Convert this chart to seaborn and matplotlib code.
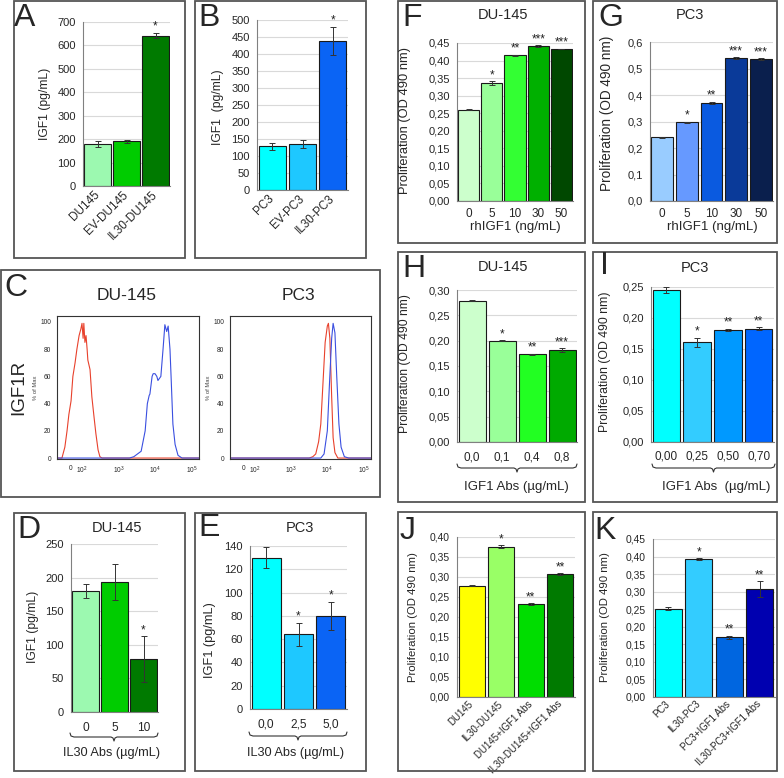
import numpy as np
import matplotlib
matplotlib.use("Agg")
import matplotlib.pyplot as plt
import seaborn as sns
from matplotlib.patches import Rectangle
from matplotlib.lines import Line2D
from matplotlib.ticker import FuncFormatter

sns.set_style("white")
plt.rcParams['font.family'] = ['Liberation Sans', 'DejaVu Sans']
plt.rcParams['mathtext.fontset'] = 'custom'
plt.rcParams['mathtext.rm'] = 'Liberation Sans'

# ---------------- data ----------------
a_cats = ["DU145", "EV-DU145", "IL30-DU145"]
a_vals = [180, 190, 642]
a_errs = [12, 5, 12]
a_stars = ["", "", "*"]

b_cats = ["PC3", "EV-PC3", "IL30-PC3"]
b_vals = [128, 136, 438]
b_errs = [10, 12, 42]
b_stars = ["", "", "*"]

d_cats = ["0", "5", "10"]
d_vals = [180, 193, 79]
d_errs = [10, 27, 34]
d_stars = ["", "", "*"]

e_cats = ["0,0", "2,5", "5,0"]
e_vals = [130, 64, 80]
e_errs = [9, 10, 12]
e_stars = ["", "*", "*"]

f_cats = ["0", "5", "10", "30", "50"]
f_vals = [0.260, 0.335, 0.415, 0.441, 0.433]
f_errs = [0.002, 0.006, 0.002, 0.002, 0.001]
f_stars = ["", "*", "**", "***", "***"]

g_cats = ["0", "5", "10", "30", "50"]
g_vals = [0.240, 0.297, 0.370, 0.540, 0.535]
g_errs = [0.003, 0.003, 0.005, 0.003, 0.003]
g_stars = ["", "*", "**", "***", "***"]

h_cats = ["0,0", "0,1", "0,4", "0,8"]
h_vals = [0.279, 0.200, 0.173, 0.181]
h_errs = [0.001, 0.001, 0.001, 0.004]
h_stars = ["", "*", "**", "***"]

i_cats = ["0,00", "0,25", "0,50", "0,70"]
i_vals = [0.245, 0.161, 0.181, 0.183]
i_errs = [0.005, 0.007, 0.002, 0.002]
i_stars = ["", "*", "**", "**"]

j_cats = ["DU145", "IL30-DU145", "DU145+IGF1 Abs", "IL30-DU145+IGF1 Abs"]
j_vals = [0.278, 0.376, 0.232, 0.308]
j_errs = [0.001, 0.003, 0.002, 0.002]
j_stars = ["", "*", "**", "**"]

k_cats = ["PC3", "IL30-PC3", "PC3+IGF1 Abs", "IL30-PC3+IGF1 Abs"]
k_vals = [0.252, 0.393, 0.170, 0.308]
k_errs = [0.003, 0.003, 0.004, 0.022]
k_stars = ["", "*", "**", "**"]

# flow cytometry histograms (x in decades, y in % of max)
du_red_x = [1.32, 1.36, 1.45, 1.53, 1.59, 1.64, 1.70, 1.75, 1.81, 1.86, 1.92, 1.97,
            2.00, 2.03, 2.05, 2.08, 2.11, 2.14, 2.16, 2.22, 2.27, 2.33, 2.38, 2.44,
            2.49, 2.55, 5.20]
du_red_y = [0, 0, 0, 8, 20, 32, 42, 60, 70, 80, 90, 95, 99, 88, 99, 85, 90, 80,
            72, 65, 45, 30, 18, 6, 1, 0, 0]
du_blue_x = [1.32, 3.30, 3.42, 3.62, 3.73, 3.79, 3.84, 3.86, 3.92, 3.95, 4.00, 4.05,
             4.08, 4.16, 4.22, 4.27, 4.32, 4.36, 4.41, 4.44, 4.49, 4.55, 4.63,
             4.74, 5.20]
du_blue_y = [0, 0, 1, 5, 20, 40, 46, 47, 60, 62, 62, 60, 57, 60, 80, 98, 93, 97,
             80, 60, 25, 10, 2, 0, 0]
pc_red_x = [1.32, 3.50, 3.60, 3.68, 3.76, 3.82, 3.88, 3.94, 4.00, 4.03, 4.07, 4.12,
            4.16, 4.21, 4.29, 5.20]
pc_red_y = [0, 0, 1, 3, 12, 25, 55, 85, 97, 99, 88, 45, 15, 4, 0, 0]
pc_blue_x = [1.32, 3.82, 3.91, 4.00, 4.06, 4.12, 4.16, 4.21, 4.26, 4.32, 4.38, 4.47,
             4.59, 5.20]
pc_blue_y = [0, 0, 3, 20, 55, 88, 99, 92, 60, 25, 8, 1, 0, 0]
flow_tick_pos = [1.7, 2, 3, 4, 5]
flow_tick_lab = ["0", "$10^2$", "$10^3$", "$10^4$", "$10^5$"]

green3 = ["#9cf9b0", "#00cc00", "#007a00"]
blue3 = ["#00ffff", "#1ec8ff", "#0a64f5"]
green5 = ["#ccffcc", "#99ff99", "#33ff33", "#00b000", "#004800"]
blue5 = ["#99ccff", "#6699ff", "#0a5ae0", "#0a3a99", "#0a1f4d"]
green4 = ["#ccffcc", "#99ff99", "#22ff22", "#00aa00"]
blue4 = ["#00ffff", "#33ccff", "#0099ff", "#0066ff"]
j_cols = ["#ffff00", "#99ff66", "#00dd00", "#007a00"]
k_cols = ["#00ffff", "#33ccff", "#0066e0", "#0000b0"]

W, H = 784, 778
fig = plt.figure(figsize=(W / 100, H / 100), dpi=100)


def px_ax(l, t, r, b):
    return fig.add_axes([l / W, 1 - b / H, (r - l) / W, (b - t) / H])


def ftext(x, y, s, **kw):
    fig.text(x / W, 1 - y / H, s, **kw)


def box(l, t, r, b):
    fig.add_artist(Rectangle((l / W, 1 - b / H), (r - l) / W, (b - t) / H,
                             transform=fig.transFigure, fill=False,
                             ec="#555555", lw=1.3))


def brace(l, r, y):
    m = (l + r) / 2
    xs = np.array([l, l + 1, l + 4, m - 3, m - 1, m, m + 1, m + 3, r - 4, r - 1, r])
    ys = np.array([y - 4, y - 1, y, y, y + 1, y + 4, y + 1, y, y, y - 1, y - 4])
    fig.add_artist(Line2D(xs / W, 1 - ys / H, transform=fig.transFigure,
                          color="#333333", lw=0.8))


def bar_panel(pos, cats, vals, errs, colors, stars, ymax, ystep, dec,
              tick_fs=8, xt_fs=8.5, rot=False, xpad=4, width=0.9):
    ax = px_ax(*pos)
    sns.barplot(x=cats, y=vals, hue=cats, order=cats, hue_order=cats,
                palette=colors, legend=False, width=width, saturation=1,
                edgecolor="#1a1a1a", linewidth=0.8, ax=ax)
    ax.errorbar(np.arange(len(cats)), vals, yerr=errs, fmt="none",
                ecolor="#333333", elinewidth=0.7, capsize=2, capthick=0.7,
                zorder=3)
    for i, s in enumerate(stars):
        if s:
            ax.annotate(s, (i, vals[i] + errs[i]), xytext=(0, 0),
                        textcoords="offset points", ha="center", va="bottom",
                        fontsize=8.5, color="#222222")
    ax.set_ylim(0, ymax)
    ax.set_yticks(np.arange(0, ymax + ystep / 2, ystep))
    ax.yaxis.set_major_formatter(
        FuncFormatter(lambda v, p: f"{v:.{dec}f}".replace(".", ",")))
    ax.set_xlim(-0.5, len(cats) - 0.5)
    ax.set_xticks(np.arange(len(cats)))
    ax.set_xticks(np.arange(-0.5, len(cats)), minor=True)
    ax.tick_params(axis="x", which="major", length=0, pad=xpad, labelsize=xt_fs)
    ax.tick_params(axis="x", which="minor", length=4, width=0.8, color="#808080")
    ax.tick_params(axis="y", length=3, width=0.8, color="#808080",
                   labelsize=tick_fs, pad=2)
    if rot:
        plt.setp(ax.get_xticklabels(), rotation=45, ha="right", va="center",
                 rotation_mode="anchor")
    ax.grid(axis="y", color="#d9d9d9", lw=0.8)
    ax.set_axisbelow(True)
    for s in ["top", "right"]:
        ax.spines[s].set_visible(False)
    for s in ["left", "bottom"]:
        ax.spines[s].set_color("#808080")
        ax.spines[s].set_linewidth(0.8)
    ax.set_xlabel("")
    ax.set_ylabel("")
    return ax


def flow_panel(pos, rx, ry, bx, by):
    ax = px_ax(*pos)
    sns.lineplot(x=rx, y=ry, color="#e8412c", lw=0.8, ax=ax,
                 estimator=None, sort=False)
    sns.lineplot(x=bx, y=by, color="#3a4fe0", lw=0.8, ax=ax,
                 estimator=None, sort=False)
    ax.set_xlim(1.315, 5.205)
    ax.set_ylim(-0.7, 104.4)
    ax.set_yticks([0, 20, 40, 60, 80, 100])
    ax.set_xticks(flow_tick_pos)
    ax.set_xticklabels(flow_tick_lab)
    minor = [np.log10(k * 10 ** d) for d in (2, 3, 4) for k in range(2, 10)]
    minor += [1.4, 1.5, 1.6, 1.8, 1.9]
    ax.set_xticks(minor, minor=True)
    ax.tick_params(labelsize=4.8, length=2.5, width=0.6, pad=1.5)
    ax.tick_params(which="minor", length=1.5, width=0.5)
    ax.set_ylabel("% of Max", fontsize=4.2, labelpad=1.5, color="#444444")
    ax.set_xlabel("")
    for s in ax.spines.values():
        s.set_color("#333333")
        s.set_linewidth(0.8)
    return ax


# ---------------- panel frames ----------------
box(14, 1, 185, 258)
box(195, 1, 366, 258)
box(1, 270, 380, 497)
box(14, 513, 185, 771)
box(195, 513, 366, 771)
box(398, 1, 585, 243)
box(593, 1, 777, 243)
box(398, 252, 585, 502)
box(593, 252, 777, 502)
box(398, 512, 585, 771)
box(593, 512, 777, 771)

# ---------------- A / B ----------------
bar_panel((83, 22, 170, 186), a_cats, a_vals, a_errs, green3, a_stars, 700, 100, 0,
          rot=True, xpad=5)
ftext(45, 104, "IGF1 (pg/mL)", rotation=90, ha="center", va="center", fontsize=8.7)
bar_panel((257, 20, 348, 190), b_cats, b_vals, b_errs, blue3, b_stars, 500, 50, 0,
          rot=True, xpad=5)
ftext(218, 107, "IGF1  (pg/mL)", rotation=90, ha="center", va="center", fontsize=8.7)

# ---------------- C ----------------
flow_panel((57, 316, 199, 459), du_red_x, du_red_y, du_blue_x, du_blue_y)
flow_panel((230, 316, 371, 459), pc_red_x, pc_red_y, pc_blue_x, pc_blue_y)
ftext(127, 296, "DU-145", ha="center", va="center", fontsize=12.5)
ftext(298, 296, "PC3", ha="center", va="center", fontsize=12.5)
ftext(19, 387, "IGF1R", rotation=90, ha="center", va="center", fontsize=13.5)

# ---------------- D / E ----------------
bar_panel((71, 544, 158, 712), d_cats, d_vals, d_errs, green3, d_stars, 250, 50, 0,
          xt_fs=8.6, xpad=7)
ftext(117, 528, "DU-145", ha="center", va="center", fontsize=10.5)
ftext(33, 627, "IGF1 (pg/mL)", rotation=90, ha="center", va="center", fontsize=8.7)
brace(70, 158, 737)
ftext(112, 753, "IL30 Abs (µg/mL)", ha="center", va="center", fontsize=9.2)

bar_panel((250, 546, 347, 709), e_cats, e_vals, e_errs, blue3, e_stars, 140, 20, 0,
          xt_fs=8.6, xpad=7)
ftext(300, 528, "PC3", ha="center", va="center", fontsize=10.5)
ftext(210, 640, "IGF1 (pg/mL)", rotation=90, ha="center", va="center", fontsize=9.2)
brace(249, 347, 736)
ftext(296, 753, "IL30 Abs (µg/mL)", ha="center", va="center", fontsize=9.2)

# ---------------- F / G ----------------
bar_panel((457, 43, 573, 201), f_cats, f_vals, f_errs, green5, f_stars, 0.45, 0.05, 2,
          xpad=5, width=0.92)
ftext(503, 15, "DU-145", ha="center", va="center", fontsize=10.5)
ftext(405, 120, "Proliferation (OD 490 nm)", rotation=90, ha="center", va="center",
      fontsize=9.3)
ftext(515, 227, "rhIGF1 (ng/mL)", ha="center", va="center", fontsize=9.5)

bar_panel((650, 42, 773, 201), g_cats, g_vals, g_errs, blue5, g_stars, 0.6, 0.1, 1,
          xpad=5, width=0.88)
ftext(690, 15, "PC3", ha="center", va="center", fontsize=10.5)
ftext(607, 113, "Proliferation (OD 490 nm)", rotation=90, ha="center", va="center",
      fontsize=9.8)
ftext(712, 227, "rhIGF1 (ng/mL)", ha="center", va="center", fontsize=9.5)

# ---------------- H / I ----------------
bar_panel((457, 290, 577, 442), h_cats, h_vals, h_errs, green4, h_stars, 0.30, 0.05, 2,
          xpad=7, width=0.9)
ftext(503, 267, "DU-145", ha="center", va="center", fontsize=10.5)
ftext(405, 364, "Proliferation (OD 490 nm)", rotation=90, ha="center", va="center",
      fontsize=8.7)
brace(457, 577, 468)
ftext(516, 487, "IGF1 Abs (µg/mL)", ha="center", va="center", fontsize=9.5)

bar_panel((651, 287, 774, 442), i_cats, i_vals, i_errs, blue4, i_stars, 0.25, 0.05, 2,
          xpad=6, width=0.9)
ftext(695, 268, "PC3", ha="center", va="center", fontsize=10.5)
ftext(605, 362, "Proliferation (OD 490 nm)", rotation=90, ha="center", va="center",
      fontsize=8.8)
brace(652, 775, 468)
ftext(716, 487, "IGF1 Abs  (µg/mL)", ha="center", va="center", fontsize=9.5)

# ---------------- J / K ----------------
bar_panel((457, 537, 575, 697), j_cats, j_vals, j_errs, j_cols, j_stars, 0.40, 0.05, 2,
          tick_fs=7.4, xt_fs=7, rot=True, xpad=4, width=0.88)
ftext(413, 617, "Proliferation (OD 490 nm)", rotation=90, ha="center", va="center",
      fontsize=8.2)

bar_panel((653, 539, 775, 697), k_cats, k_vals, k_errs, k_cols, k_stars, 0.45, 0.05, 2,
          tick_fs=7.4, xt_fs=7, rot=True, xpad=4, width=0.88)
ftext(605, 617, "Proliferation (OD 490 nm)", rotation=90, ha="center", va="center",
      fontsize=8.2)

# ---------------- panel letters ----------------
for letter, x, y in [("A", 14, 3), ("B", 198, 3), ("C", 4, 273), ("D", 17, 515),
                     ("E", 198, 513), ("F", 402, 3), ("G", 598, 3), ("H", 402, 254),
                     ("I", 600, 251), ("J", 400, 516), ("K", 594, 516)]:
    ftext(x, y, letter, ha="left", va="top", fontsize=23)

fig.savefig("out.png", dpi=100, facecolor="white")
